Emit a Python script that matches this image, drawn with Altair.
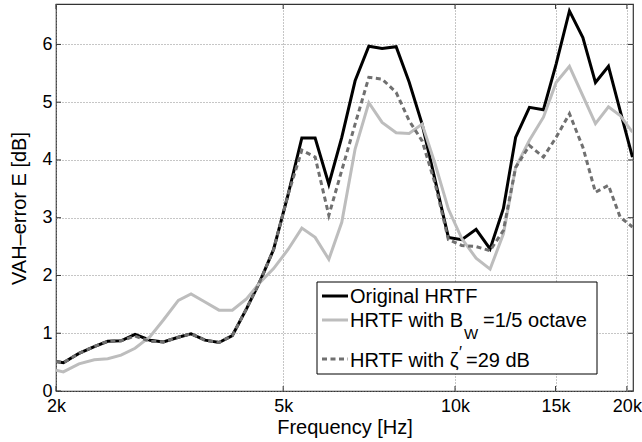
import altair as alt
import pandas as pd

FONT = "Liberation Sans"

# Frequency grid of the error curves (Hz)
freq_hz = [2000, 2060, 2194, 2334, 2464, 2600, 2751, 2922, 3084, 3276,
           3448, 3648, 3860, 4073, 4316, 4554, 4810, 5100, 5391, 5688,
           6011, 6333, 6683, 7063, 7452, 7886, 8310, 8757, 9228, 9736,
           10276, 10887, 11519, 12155, 12768, 13500, 14285, 15034, 15864, 16747,
           17620, 18568, 19467, 20456]

# VAH-error E in dB for each HRTF variant
original_hrtf = [0.51, 0.49, 0.65, 0.77, 0.86, 0.87, 0.98, 0.88, 0.85, 0.93,
                 0.99, 0.88, 0.84, 0.96, 1.43, 1.90, 2.45, 3.40, 4.38, 4.38,
                 3.58, 4.39, 5.37, 5.97, 5.93, 5.96, 5.35, 4.62, 3.65, 2.66,
                 2.62, 2.80, 2.46, 3.16, 4.39, 4.91, 4.87, 5.66, 6.58, 6.12,
                 5.34, 5.62, 4.85, 4.05]
bw_fifth_octave = [0.36, 0.33, 0.47, 0.54, 0.56, 0.62, 0.74, 0.94, 1.23, 1.57,
                   1.68, 1.54, 1.40, 1.40, 1.60, 1.88, 2.12, 2.45, 2.82, 2.66,
                   2.28, 2.92, 4.19, 4.99, 4.65, 4.47, 4.46, 4.62, 3.93, 3.15,
                   2.64, 2.30, 2.11, 2.72, 3.87, 4.34, 4.74, 5.34, 5.62, 5.11,
                   4.63, 4.92, 4.77, 4.48]
zeta_29db = [0.51, 0.49, 0.65, 0.77, 0.86, 0.87, 0.95, 0.86, 0.85, 0.93,
             0.99, 0.88, 0.84, 0.96, 1.43, 1.90, 2.45, 3.40, 4.17, 4.05,
             3.04, 3.82, 4.62, 5.43, 5.40, 5.17, 4.68, 4.33, 3.59, 2.62,
             2.52, 2.50, 2.43, 2.78, 3.87, 4.25, 4.05, 4.39, 4.80, 4.22,
             3.44, 3.56, 3.01, 2.84]

x_ticks = [2000, 5000, 10000, 15000, 20000]
y_ticks = [0, 1, 2, 3, 4, 5, 6]

W, H = 577, 387
TICK_FS, TITLE_FS, LEG_FS = 18, 20, 20

x_scale = alt.Scale(type="log", domain=[2000, 20500], nice=False)
y_scale = alt.Scale(domain=[0, 6.7], nice=False)

x_axis = alt.Axis(values=x_ticks, labelExpr="datum.value / 1000 + 'k'",
                  grid=True, gridDash=[1, 2], gridColor="#8c8c8c", gridWidth=1,
                  ticks=False, domain=False, labelOverlap=False, labelFlush=False,
                  labelFont=FONT, labelFontSize=TICK_FS, labelColor="black",
                  labelPadding=6,
                  titleFont=FONT, titleFontSize=TITLE_FS, titleFontWeight="normal",
                  titleColor="black", titlePadding=2)
y_axis = alt.Axis(values=y_ticks, grid=True, gridDash=[1, 2], gridColor="#8c8c8c",
                  gridWidth=1, ticks=False, domain=False, labelOverlap=False,
                  labelFlush=False, labelFont=FONT, labelFontSize=TICK_FS,
                  labelColor="black", labelPadding=4,
                  titleFont=FONT, titleFontSize=TITLE_FS, titleFontWeight="normal",
                  titleColor="black", titlePadding=12, titleY=204)

x_enc = alt.X("freq:Q", scale=x_scale, axis=x_axis, title="Frequency [Hz]")
y_enc = alt.Y("err:Q", scale=y_scale, axis=y_axis, title="VAH–error E [dB]")


def curve(values, **style):
    df = pd.DataFrame({"freq": freq_hz, "err": values})
    return alt.Chart(df).mark_line(clip=True, strokeWidth=3, **style).encode(
        x=x_enc, y=y_enc)


line_orig = curve(original_hrtf, color="black")
line_bw = curve(bw_fifth_octave, color="#bdbdbd")
line_zeta = curve(zeta_29db, color="#707070", strokeDash=[5, 3.5])

# inward tick marks on all four sides of the box
xt = pd.DataFrame({"freq": x_ticks})
yt = pd.DataFrame({"err": y_ticks})
tick_style = dict(color="#333333", strokeWidth=1)
ticks_bottom = alt.Chart(xt).mark_rule(**tick_style).encode(
    x=x_enc, y=alt.value(H), y2=alt.value(H - 5))
ticks_top = alt.Chart(xt).mark_rule(**tick_style).encode(
    x=x_enc, y=alt.value(0), y2=alt.value(5))
ticks_left = alt.Chart(yt).mark_rule(**tick_style).encode(
    y=y_enc, x=alt.value(0), x2=alt.value(5))
ticks_right = alt.Chart(yt).mark_rule(**tick_style).encode(
    y=y_enc, x=alt.value(W), x2=alt.value(W - 5))

# legend box drawn by hand so the subscript and the prime can be typeset
one = pd.DataFrame({"k": [0]})
leg_box = alt.Chart(one).mark_rect(fill="white", stroke="black", strokeWidth=1).encode(
    x=alt.value(261), x2=alt.value(541), y=alt.value(278), y2=alt.value(370))


def leg_line(y, **style):
    return alt.Chart(one).mark_rule(strokeWidth=3, **style).encode(
        x=alt.value(266), x2=alt.value(292), y=alt.value(y))


def leg_text(txt, x, y, size=LEG_FS):
    return alt.Chart(one).mark_text(align="left", baseline="alphabetic", font=FONT,
                                    fontSize=size, color="black", text=txt).encode(
        x=alt.value(x), y=alt.value(y))


legend = [
    leg_box,
    leg_line(292, color="black"),
    leg_line(316, color="#bdbdbd"),
    leg_line(355, color="#707070", strokeDash=[5, 3.5]),
    leg_text("Original HRTF", 294, 299),
    leg_text("HRTF with B", 294, 323),
    leg_text("W", 408, 335, 15),
    leg_text("=1/5 octave", 427, 323),
    leg_text("HRTF with ζ", 294, 363),
    leg_text("′", 403, 354, 16),
    leg_text("=29 dB", 410, 363),
]

chart = alt.layer(
    line_orig, line_bw, line_zeta,
    ticks_bottom, ticks_top, ticks_left, ticks_right,
    *legend,
).properties(
    width=W, height=H,
    autosize=alt.AutoSizeParams(type="none"),
    padding={"left": 56, "top": 4, "right": 9, "bottom": 51},
).configure_view(stroke="#333333", strokeWidth=1.2)

chart.save("out.html", embed_options={"renderer": "svg", "actions": False})
